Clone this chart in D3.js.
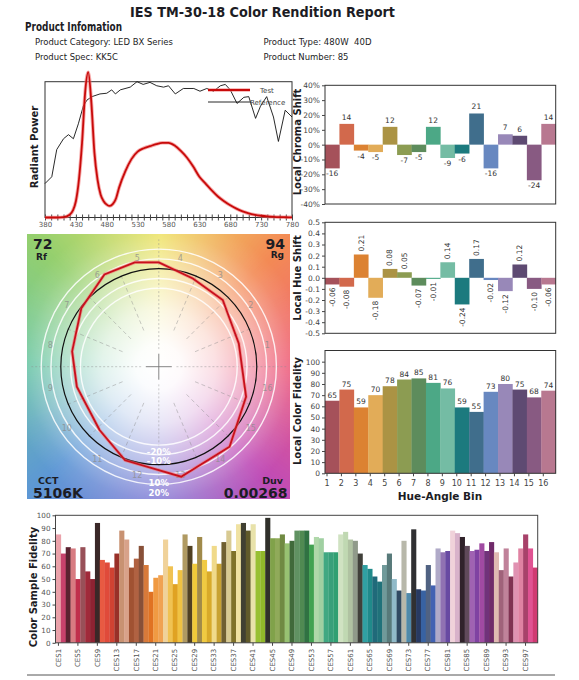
<!DOCTYPE html>
<html><head><meta charset="utf-8">
<script src="https://d3js.org/d3.v7.min.js"></script>
<style>
body{margin:0;background:#fff;}
svg{display:block;}
text{font-family:"DejaVu Sans",sans-serif;}
</style></head>
<body>
<svg id="chart" width="579" height="680"></svg>
<script>
// ================= DATA =================
const titleText = "IES TM-30-18 Color Rendition Report";
const infoTitle = "Product Infomation";
const infoLeft = ["Product Category: LED BX Series", "Product Spec: KK5C"];
const infoRight = ["Product Type: 480W  40D", "Product Number: 85"];

const testWl = [380,390,400,410,420,425,430,435,440,445,450,455,460,465,470,475,480,485,490,495,500,510,520,530,540,550,560,570,580,590,600,610,620,630,640,650,660,670,680,690,700,710,720,730,740,750,760,770,780];
const testPower = [0,0,0,0.002,0.02,0.05,0.12,0.28,0.55,0.92,1.07,0.85,0.48,0.28,0.17,0.12,0.095,0.085,0.1,0.14,0.22,0.34,0.43,0.485,0.51,0.525,0.54,0.55,0.55,0.53,0.49,0.44,0.375,0.30,0.25,0.20,0.155,0.12,0.09,0.065,0.045,0.03,0.02,0.013,0.008,0.005,0.003,0.002,0.001];
const refWl = [380,391,399,410,418,426,434,442,448,456,469,480,488,494,502,518,529,539,550,561,572,580,591,604,621,631,642,653,664,672,680,691,702,710,721,729,739,750,758,769,780];
const refPower = [0.25,0.30,0.50,0.58,0.61,0.58,0.69,0.82,0.865,0.89,0.91,0.915,0.94,0.91,0.94,0.96,1.0,0.98,0.995,0.97,0.96,0.97,0.91,0.95,0.95,0.93,0.95,0.93,0.97,0.98,0.94,0.84,0.885,0.89,0.73,0.82,0.89,0.74,0.56,0.79,0.74];
const specTicks = [380,430,480,530,580,630,680,730,780];

const bins = [1,2,3,4,5,6,7,8,9,10,11,12,13,14,15,16];
const chromaShift = [-16,14,-4,-5,12,-7,-5,12,-9,-6,21,-16,7,6,-24,14];
const hueShift = [-0.06,-0.08,0.21,-0.18,0.08,0.05,-0.07,-0.01,0.14,-0.24,0.17,-0.02,-0.12,0.12,-0.10,-0.06];
const localFidelity = [65,75,59,70,78,84,85,81,76,59,55,73,80,75,68,74];
const binColors = ["#a5515a","#d2694c","#dc8232","#e2ac58","#ab9344","#8c9c52","#5d8c5c","#4ca886","#74bca4","#1c7a7e","#406e8c","#6888c0","#9888b8","#5e4a72","#885a82","#b87890"];

const chromaTicks = [-40,-30,-20,-10,0,10,20,30,40];
const hueTicks = [-0.5,-0.4,-0.3,-0.2,-0.1,0,0.1,0.2,0.3,0.4,0.5];
const fidTicks = [0,10,20,30,40,50,60,70,80,90,100];

const rfValue = "72", rgValue = "94", cctValue = "5106K", duvValue = "0.00268";
// test vector polygon read from the graphic: hue angle (deg) and radius relative to reference circle
const polyAngle = [16.2,46.2,68.9,90,103,120.5,143,170,193.7,226.9,250.2,281.5,311.5,341];
const polyRadius = [0.85,0.943,0.965,1.065,1.093,1.093,0.99,0.898,0.861,0.885,1.015,1.145,1.09,0.942];
const ringLevels = [0.8,0.9,1.1,1.2];
const ringLabels = ["-20%","-10%","10%","20%"];
const hueStops = [0,45,90,135,180,225,270,315,360];
const hueStopColors = ["#ee5f7c","#f38a55","#efe46c","#94cf6e","#6cc6a6","#5d97d5","#8a84d8","#c04cb6","#ee5f7c"];

const cesNames = d3.range(1,100).map(i => "CES" + i);
const cesFidelity = [85,70,75,74,50,75,56,50,94,65,63,59,70,88,81,59,66,76,61,40,51,53,81,60,46,57,85,76,62,83,65,56,76,62,79,88,72,93,94,88,93,72,72,98,82,82,85,78,80,88,88,88,77,83,82,71,71,71,85,87,81,80,70,61,58,52,48,61,70,50,41,80,39,89,42,41,61,45,74,71,72,88,86,83,76,72,73,78,72,79,71,57,74,52,63,74,85,74,59];
const cesColors = ["#eaa2aa","#c8426c","#5a2230","#d87c82","#c0304c","#985058","#a02a3a","#8e2232","#3a2828",
"#e85a42","#e04a3a","#d04232","#983028","#c89272","#d8a28a","#a05232","#b06242","#885038","#d87a3a",
"#e07222","#f09a42","#f0a252","#f0d29a","#f0c252","#e0a222","#f0c242","#b09a62","#504022","#f0ca3a",
"#a08a4a","#f0ca42","#d8aa2a","#f0da8a","#c8a232","#706032","#d8ca92","#80722a","#f0e2a2","#404032",
"#605a2a","#e8e2aa","#98c032","#90b82a","#30302a","#80a24a","#90aa5a","#708a42","#98c272","#406a3a",
"#609262","#508a52","#307242","#42a252","#b0d8aa","#a0d0a2","#40a882","#38a07a","#30a072","#d0e2c2",
"#c0d8b2","#b0c2a2","#909a8a","#40403a","#30a0a2","#208a8a","#206a7a","#20727a","#709a9a","#587a7a",
"#90bac8","#304a62","#b8b8aa","#508aaa","#303032","#283a62","#3862a2","#506282","#4262b2","#b0aac8",
"#9072b2","#684aa2","#f0d2da","#d8b2ca","#30222a","#604a5a","#a062b2","#8042a2","#a04aa2","#70327a",
"#702a6a","#e0bab2","#a0627a","#c0829a","#803252","#e092b2","#e082a2","#a8426a","#e05292","#d03a72"];

// ================= SETUP =================
const svg = d3.select("#chart");
const ink = "#1c1c24";

function addText(g, x, y, s, o = {}) {
  const t = g.append("text").attr("x", x).attr("y", y).text(s)
    .attr("font-size", o.size || 9).attr("fill", o.fill || ink)
    .attr("font-weight", o.weight || "normal")
    .attr("text-anchor", o.anchor || "start")
    .style("white-space", "pre");
  if (o.len) t.attr("textLength", o.len).attr("lengthAdjust", "spacingAndGlyphs");
  if (o.transform) t.attr("transform", o.transform);
  return t;
}

// ================= HEADER =================
addText(svg, 130, 16.5, titleText, {size: 14.5, weight: "bold", len: 265});
addText(svg, 25, 31, infoTitle, {size: 11.5, weight: "bold", len: 97});
addText(svg, 35, 44.5, infoLeft[0], {size: 9, len: 138});
addText(svg, 35, 60, infoLeft[1], {size: 9, len: 83});
addText(svg, 263.5, 44.5, infoRight[0], {size: 9, len: 108});
addText(svg, 263.5, 60, infoRight[1], {size: 9, len: 85});

// ================= SPECTRUM =================
const sx = d3.scaleLinear().domain([380, 780]).range([45, 292]);
const sy = d3.scaleLinear().domain([0, 1]).range([217.5, 81.7]);
const spec = svg.append("g");
spec.append("rect").attr("x", 45).attr("y", 81.7).attr("width", 247).attr("height", 135.8)
  .attr("fill", "none").attr("stroke", "#333").attr("stroke-width", 1);
const tickAx = spec.append("g").attr("transform", "translate(0,214.5)")
  .call(d3.axisBottom(sx).tickValues(d3.range(380, 781, 10)).tickSize(6).tickFormat(""));
tickAx.select(".domain").remove();
tickAx.selectAll("line").attr("stroke", "#444");
const labAx = spec.append("g").attr("transform", "translate(0,217.5)")
  .call(d3.axisBottom(sx).tickValues(specTicks).tickSize(0).tickPadding(5).tickFormat(d3.format("d")));
labAx.select(".domain").remove();
labAx.selectAll("text").attr("font-size", 7).attr("fill", "#555").attr("font-family", "DejaVu Sans");

const refLine = d3.line().x((d, i) => sx(refWl[i])).y(d => sy(d));
spec.append("path").attr("d", refLine(refPower)).attr("fill", "none").attr("stroke", "#111").attr("stroke-width", 0.9);
const testLine = d3.line().x((d, i) => sx(testWl[i])).y(d => sy(d)).curve(d3.curveMonotoneX);
spec.append("path").attr("d", testLine(testPower)).attr("fill", "none").attr("stroke", "#f07070").attr("stroke-width", 3.6).attr("opacity", 0.6);
spec.append("path").attr("d", testLine(testPower)).attr("fill", "none").attr("stroke", "#c80a0a").attr("stroke-width", 1.8);
spec.append("line").attr("x1", 208).attr("x2", 250).attr("y1", 90).attr("y2", 90).attr("stroke", "#f07070").attr("stroke-width", 3.6).attr("opacity", 0.6);
spec.append("line").attr("x1", 208).attr("x2", 250).attr("y1", 90).attr("y2", 90).attr("stroke", "#c80a0a").attr("stroke-width", 1.8);
addText(spec, 260, 92.5, "Test", {size: 7, fill: "#444"});
spec.append("line").attr("x1", 208).attr("x2", 250).attr("y1", 102).attr("y2", 102).attr("stroke", "#111").attr("stroke-width", 0.9);
addText(spec, 250, 104.5, "Reference", {size: 7, fill: "#444"});
addText(spec, 0, 0, "Radiant Power", {size: 10, weight: "bold", anchor: "middle", transform: "translate(37.5,147) rotate(-90)"});

// ================= BIN CHARTS =================
const bx = d3.scaleBand().domain(bins).range([325, 555.7]).padding(0);

function frame(g, y0, y1) {
  g.append("rect").attr("x", 325).attr("y", y0).attr("width", 230.7).attr("height", y1 - y0)
    .attr("fill", "none").attr("stroke", "#333").attr("stroke-width", 1);
}
function styleAxis(a) {
  a.select(".domain").remove();
  a.selectAll("line").attr("stroke", "#444");
  a.selectAll("text").attr("font-size", 7.5).attr("fill", "#444").attr("font-family", "DejaVu Sans");
}
const fixMinus = s => s.replace("\u2212", "-");

// Chroma
const cy = d3.scaleLinear().domain([-40, 40]).range([204, 85.3]);
const cg = svg.append("g");
cg.selectAll("rect.b").data(chromaShift).join("rect").attr("class", "b")
  .attr("x", (d, i) => bx(bins[i])).attr("width", bx.bandwidth() + 0.3)
  .attr("y", d => cy(Math.max(0, d))).attr("height", d => Math.abs(cy(d) - cy(0)))
  .attr("fill", (d, i) => binColors[i]);
cg.selectAll("text.v").data(chromaShift).join("text").attr("class", "v")
  .attr("x", (d, i) => bx(bins[i]) + bx.bandwidth() / 2)
  .attr("y", d => d >= 0 ? cy(d) - 4 : cy(d) + 8)
  .attr("text-anchor", "middle").attr("font-size", 7.5).attr("fill", "#333")
  .text(d => String(d));
frame(cg, 85.3, 204);
styleAxis(cg.append("g").attr("transform", "translate(325,0)")
  .call(d3.axisLeft(cy).tickValues(chromaTicks).tickSize(3).tickPadding(2).tickFormat(d => d + "%")));
addText(cg, 0, 0, "Local Chroma Shift", {size: 10, weight: "bold", anchor: "middle", transform: "translate(301,142) rotate(-90)"});

// Hue
const hy = d3.scaleLinear().domain([-0.5, 0.5]).range([333.3, 222.3]);
const hg = svg.append("g");
hg.selectAll("rect.b").data(hueShift).join("rect").attr("class", "b")
  .attr("x", (d, i) => bx(bins[i])).attr("width", bx.bandwidth() + 0.3)
  .attr("y", d => hy(Math.max(0, d))).attr("height", d => Math.abs(hy(d) - hy(0)))
  .attr("fill", (d, i) => binColors[i]);
hg.selectAll("text.v").data(hueShift).join("text").attr("class", "v")
  .attr("transform", (d, i) => {
    const cx = bx(bins[i]) + bx.bandwidth() / 2 + 2.6;
    const yy = d >= 0 ? hy(d) - 3 : hy(d) + 3;
    return `translate(${cx},${yy}) rotate(-90)`;
  })
  .attr("text-anchor", d => d >= 0 ? "start" : "end").attr("font-size", 7.5).attr("fill", "#333")
  .text(d => fixMinus(d3.format(".2f")(d)));
frame(hg, 222.3, 333.3);
styleAxis(hg.append("g").attr("transform", "translate(325,0)")
  .call(d3.axisLeft(hy).tickValues(hueTicks).tickSize(3).tickPadding(2).tickFormat(d => fixMinus(d3.format(".1f")(d)))));
addText(hg, 0, 0, "Local Hue Shift", {size: 10, weight: "bold", anchor: "middle", transform: "translate(301,278) rotate(-90)"});

// Fidelity
const fy = d3.scaleLinear().domain([0, 110]).range([473.3, 350.5]);
const fg = svg.append("g");
fg.selectAll("rect.b").data(localFidelity).join("rect").attr("class", "b")
  .attr("x", (d, i) => bx(bins[i])).attr("width", bx.bandwidth() + 0.3)
  .attr("y", d => fy(d)).attr("height", d => fy(0) - fy(d))
  .attr("fill", (d, i) => binColors[i]);
fg.selectAll("text.v").data(localFidelity).join("text").attr("class", "v")
  .attr("x", (d, i) => bx(bins[i]) + bx.bandwidth() / 2).attr("y", d => fy(d) - 3)
  .attr("text-anchor", "middle").attr("font-size", 7.5).attr("fill", "#333").text(d => d);
frame(fg, 350.5, 473.3);
styleAxis(fg.append("g").attr("transform", "translate(325,0)")
  .call(d3.axisLeft(fy).tickValues(fidTicks).tickSize(3).tickPadding(2)));
const fxAx = fg.append("g").attr("transform", "translate(2,473.3)")
  .call(d3.axisBottom(bx).tickSize(3).tickPadding(4).tickFormat(d => d));
fxAx.selectAll(".tick").attr("transform", d => `translate(${bx(d)},0)`);
styleAxis(fxAx);
fxAx.selectAll("text").attr("font-size", 8);
addText(fg, 440, 500, "Hue-Angle Bin", {size: 10.5, weight: "bold", anchor: "middle"});
addText(fg, 0, 0, "Local Color Fidelity", {size: 10, weight: "bold", anchor: "middle", transform: "translate(301,411) rotate(-90)"});

// ================= COLOR VECTOR GRAPHIC =================
const sq = {x0: 27, x1: 290, y0: 234, y1: 499};
const cx0 = 158.8, cy0 = 366.7, R = 98;
const rr = d3.scaleLinear().domain([0, 1]).range([0, R]);
const defs = svg.append("defs");
defs.append("clipPath").attr("id", "sqclip").append("rect")
  .attr("x", sq.x0).attr("y", sq.y0).attr("width", sq.x1 - sq.x0).attr("height", sq.y1 - sq.y0);
const rg = defs.append("radialGradient").attr("id", "whiteglow").attr("gradientUnits", "userSpaceOnUse")
  .attr("cx", cx0).attr("cy", cy0).attr("r", 190);
[[0, 1], [0.12, 0.97], [0.3, 0.8], [0.52, 0.45], [0.7, 0.1], [0.8, 0]].forEach(([o, a]) =>
  rg.append("stop").attr("offset", o).attr("stop-color", "#fff").attr("stop-opacity", a));

const vg = svg.append("g");
const bgG = vg.append("g").attr("clip-path", "url(#sqclip)");
const hueColor = d3.scaleLinear().domain(hueStops).range(hueStopColors).interpolate(d3.interpolateRgb);
const wedge = d3.arc().innerRadius(0).outerRadius(200);
const degs = d3.range(0, 360, 1);
bgG.append("g").attr("transform", `translate(${cx0},${cy0})`)
  .selectAll("path").data(degs).join("path")
  .attr("d", a => wedge({startAngle: (90 - a - 1.6) * Math.PI / 180, endAngle: (90 - a + 0.6) * Math.PI / 180}))
  .attr("fill", a => hueColor(a + 0.5));
bgG.append("rect").attr("x", sq.x0).attr("y", sq.y0).attr("width", sq.x1 - sq.x0).attr("height", sq.y1 - sq.y0)
  .attr("fill", "url(#whiteglow)");

const cg2 = vg.append("g").attr("transform", `translate(${cx0},${cy0})`);
const guideAngles = d3.range(0, 360, 22.5);
cg2.selectAll("line.g").data(guideAngles).join("line").attr("class", "g")
  .attr("x1", a => rr(a % 90 === 0 ? 0.18 : 0.4) * Math.cos(a * Math.PI / 180))
  .attr("y1", a => -rr(a % 90 === 0 ? 0.18 : 0.4) * Math.sin(a * Math.PI / 180))
  .attr("x2", a => rr(a % 90 === 0 ? 1.3 : 1.02) * Math.cos(a * Math.PI / 180))
  .attr("y2", a => -rr(a % 90 === 0 ? 1.3 : 1.02) * Math.sin(a * Math.PI / 180))
  .attr("stroke", "#8a8a8a").attr("stroke-width", 0.8).attr("stroke-dasharray", a => a % 90 === 0 ? "2,2" : "4,3").attr("opacity", 0.55);
cg2.append("line").attr("x1", -13).attr("x2", 13).attr("y1", 0).attr("y2", 0).attr("stroke", "#777").attr("stroke-width", 0.9);
cg2.append("line").attr("y1", -13).attr("y2", 13).attr("x1", 0).attr("x2", 0).attr("stroke", "#777").attr("stroke-width", 0.9);
cg2.selectAll("circle.ring").data(ringLevels).join("circle").attr("class", "ring")
  .attr("r", d => rr(d)).attr("fill", "none").attr("stroke", "#fff").attr("stroke-width", 1.4).attr("opacity", 0.85);
cg2.selectAll("text.bn").data(bins).join("text").attr("class", "bn")
  .attr("x", d => rr(1.13) * Math.cos((d - 0.5) * 22.5 * Math.PI / 180))
  .attr("y", d => -rr(1.13) * Math.sin((d - 0.5) * 22.5 * Math.PI / 180) + 3)
  .attr("text-anchor", "middle").attr("font-size", 8).attr("fill", "#8a8a8a").attr("opacity", 0.75).text(d => d);
cg2.append("circle").attr("r", rr(1)).attr("fill", "none").attr("stroke", "#111").attr("stroke-width", 1.2);
const radial = d3.lineRadial().angle((d, i) => (90 - polyAngle[i]) * Math.PI / 180).radius(d => rr(d)).curve(d3.curveLinearClosed);
cg2.append("path").attr("d", radial(polyRadius)).attr("fill", "none").attr("stroke", "#f07070").attr("stroke-width", 3.4).attr("opacity", 0.6);
cg2.append("path").attr("d", radial(polyRadius)).attr("fill", "none").attr("stroke", "#c8101c").attr("stroke-width", 1.8);
const ringLabelY = [451.5, 461, 483, 493];
ringLabels.forEach((s, i) => addText(vg, cx0, ringLabelY[i] + 3, s, {size: 8.5, weight: "bold", fill: "#fff", anchor: "middle"}));
addText(vg, 33, 248.5, rfValue, {size: 14, weight: "bold"});
addText(vg, 36, 259.5, "Rf", {size: 9, weight: "bold"});
addText(vg, 285, 248.5, rgValue, {size: 14, weight: "bold", anchor: "end"});
addText(vg, 284, 258, "Rg", {size: 9, weight: "bold", anchor: "end"});
addText(vg, 38, 484, "CCT", {size: 9.5, weight: "bold"});
addText(vg, 33, 497.5, cctValue, {size: 14, weight: "bold"});
addText(vg, 283, 484, "Duv", {size: 9.5, weight: "bold", anchor: "end"});
addText(vg, 287.5, 497.5, duvValue, {size: 14, weight: "bold", anchor: "end"});

// ================= CES CHART =================
const ex = d3.scaleBand().domain(cesNames).range([56, 537.7]).padding(0);
const ey = d3.scaleLinear().domain([0, 100]).range([642.8, 515.3]);
const eg = svg.append("g");
eg.selectAll("rect.b").data(cesFidelity).join("rect").attr("class", "b")
  .attr("x", (d, i) => ex(cesNames[i])).attr("width", ex.bandwidth() + 0.25)
  .attr("y", d => ey(d)).attr("height", d => ey(0) - ey(d))
  .attr("fill", (d, i) => cesColors[i]);
eg.append("rect").attr("x", 55.5).attr("y", 515.3).attr("width", 482.2).attr("height", 642.8 - 515.3)
  .attr("fill", "none").attr("stroke", "#444").attr("stroke-width", 1);
const eyAx = eg.append("g").attr("transform", "translate(55.5,0)")
  .call(d3.axisLeft(ey).tickValues(fidTicks).tickSize(3).tickPadding(2));
styleAxis(eyAx);
eyAx.selectAll("text").attr("font-size", 7.2).attr("fill", "#555");
const cesTickNames = cesNames.filter((d, i) => i % 4 === 0);
const exAx = eg.append("g").attr("transform", "translate(0,642.8)")
  .call(d3.axisBottom(ex).tickValues(cesTickNames).tickSize(3).tickPadding(2));
styleAxis(exAx);
exAx.selectAll("text").attr("font-size", 7).attr("fill", "#555")
  .attr("transform", "rotate(-90)").attr("text-anchor", "end").attr("dy", "0.32em").attr("x", -6).attr("y", 0);
addText(eg, 0, 0, "Color Sample Fidelity", {size: 10, weight: "bold", anchor: "middle", transform: "translate(37,587) rotate(-90)"});
eg.append("line").attr("x1", 27).attr("x2", 555).attr("y1", 675).attr("y2", 675).attr("stroke", "#555").attr("stroke-width", 1);
</script>
</body></html>
